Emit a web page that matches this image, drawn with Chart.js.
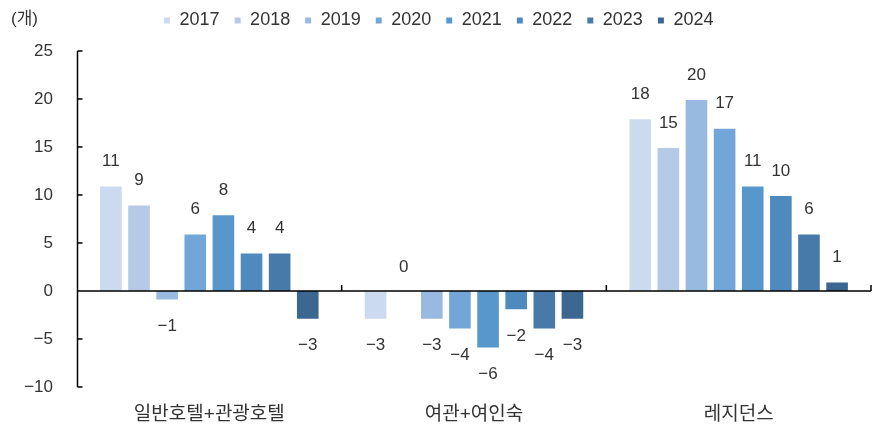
<!DOCTYPE html>
<html><head><meta charset="utf-8">
<script src="https://cdn.jsdelivr.net/npm/chart.js@4.4.1/dist/chart.umd.min.js"></script>
<style>html,body{margin:0;padding:0;background:#fff}#wrap{width:874px;height:426px;position:relative}</style>
</head><body><div id="wrap"><canvas id="c" width="874" height="426"></canvas></div>
<script>
const categories = ['일반호텔+관광호텔', '여관+여인숙', '레지던스'];
const years = ['2017','2018','2019','2020','2021','2022','2023','2024'];
const v2017 = [11, -3, 18];
const v2018 = [9, 0, 15];
const v2019 = [-1, -3, 20];
const v2020 = [6, -4, 17];
const v2021 = [8, -6, 11];
const v2022 = [4, -2, 10];
const v2023 = [4, -4, 6];
const v2024 = [-3, -3, 1];
const yTicks = [-10, -5, 0, 5, 10, 15, 20, 25];
const unitLabel = '(개)';

const seriesValues = [v2017, v2018, v2019, v2020, v2021, v2022, v2023, v2024];
const colors = ['#ccdaef','#b5cae6','#98b9e0','#72a6d8','#5897cc','#4e8abd','#477aa9','#3c6791'];
const FONT = "'Liberation Sans', 'Noto Sans CJK KR', sans-serif";
const fmt = v => (v < 0 ? '\u2212' + Math.abs(v) : String(v));

const decor = {
  id: 'decor',
  afterDatasetsDraw(chart) {
    const {ctx, chartArea: a, scales: {x, y}} = chart;
    ctx.save();
    ctx.strokeStyle = '#000';
    ctx.lineWidth = 1.5;
    const ax = Math.round(a.left) + 0.5;
    ctx.beginPath();
    ctx.moveTo(ax, y.getPixelForValue(25));
    ctx.lineTo(ax, y.getPixelForValue(-10));
    yTicks.forEach(t => {
      const py = y.getPixelForValue(t);
      ctx.moveTo(ax, py); ctx.lineTo(ax + 5, py);
    });
    const y0 = y.getPixelForValue(0);
    ctx.moveTo(ax, y0); ctx.lineTo(a.right, y0);
    const n = categories.length;
    for (let i = 1; i <= n; i++) {
      const px = a.left + (a.right - a.left) * i / n;
      ctx.moveTo(px, y0); ctx.lineTo(px, y0 - 6);
    }
    ctx.stroke();
    // data labels
    ctx.fillStyle = '#333';
    ctx.font = '17px ' + FONT;
    ctx.textAlign = 'center';
    ctx.textBaseline = 'middle';
    chart.data.datasets.forEach((ds, di) => {
      const meta = chart.getDatasetMeta(di);
      meta.data.forEach((bar, i) => {
        const v = ds.data[i];
        const top = y.getPixelForValue(Math.max(v, 0));
        const bot = y.getPixelForValue(Math.min(v, 0));
        const ty = v >= 0 ? top - 24 : bot + 26;
        ctx.fillText(fmt(v), bar.x, ty);
      });
    });
    // unit label
    ctx.textAlign = 'left';
    ctx.font = '17px ' + FONT;
    ctx.fillText(unitLabel, 11, 19);
    ctx.restore();
  }
};

new Chart(document.getElementById('c'), {
  type: 'bar',
  data: {
    labels: categories,
    datasets: years.map((yr, i) => ({
      label: yr,
      data: seriesValues[i],
      backgroundColor: colors[i],
      borderColor: '#ffffff',
      borderWidth: 1,
      categoryPercentage: 0.85,
      barPercentage: 0.84
    }))
  },
  options: {
    responsive: false,
    animation: false,
    layout: {padding: {left: 6, right: 3, top: -3, bottom: 0}},
    plugins: {
      tooltip: {enabled: false},
      legend: {
        position: 'top',
        labels: {
          boxWidth: 7, boxHeight: 7, padding: 14.5,
          color: '#333',
          font: {family: FONT, size: 18}
        }
      }
    },
    scales: {
      x: {
        grid: {display: false, drawTicks: false},
        border: {display: false},
        ticks: {color: '#333', font: {family: FONT, size: 19}, padding: 16},
        afterFit(s) { s.height = 39; }
      },
      xTop: {
        type: 'category',
        position: 'top',
        grid: {display: false, drawTicks: false},
        border: {display: false},
        ticks: {display: false},
        afterFit(s) { s.height = 11.5; }
      },
      y: {
        min: -10, max: 25,
        grid: {display: false, drawTicks: false},
        border: {display: false},
        afterBuildTicks(s) { s.ticks = yTicks.map(v => ({value: v})); },
        ticks: {color: '#333', font: {family: FONT, size: 17}, padding: 24, callback: v => fmt(v)},
        afterFit(s) { s.width = 71; }
      }
    }
  },
  plugins: [decor]
});
</script>
</body></html>
